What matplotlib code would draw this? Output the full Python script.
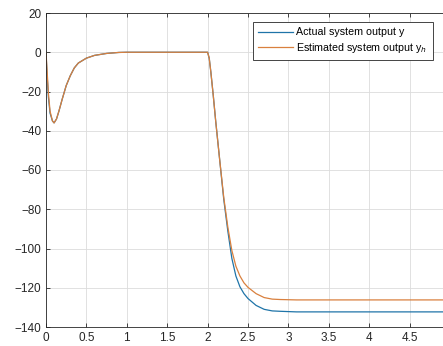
import matplotlib.pyplot as plt

# time samples (s)
t = [0, 0.01, 0.03, 0.05, 0.08, 0.1, 0.13, 0.16, 0.2, 0.25, 0.3, 0.35, 0.4,
     0.5, 0.6, 0.75, 0.9, 1.0, 2.0, 2.02, 2.04, 2.07, 2.1, 2.15, 2.2, 2.25,
     2.3, 2.35, 2.4, 2.45, 2.5, 2.6, 2.7, 2.8, 2.9, 3.1, 5.0]

# actual system output y
y_actual = [0, -9, -23, -31, -35, -36, -34, -30, -24, -17, -12, -8, -5.5,
            -3, -1.6, -0.6, -0.1, 0, 0, -3, -10, -22, -35, -55, -75, -91,
            -105, -114, -119.5, -123, -125.5, -129, -131, -131.8, -132,
            -132.3, -132.3]

# estimated system output y_h
y_est = [0, -7, -21, -30, -35, -36, -34, -30, -24, -17, -12, -8, -5.5,
         -3, -1.6, -0.6, -0.1, 0, 0, -3, -10, -22, -35, -55, -74, -89,
         -101, -109, -114, -117.5, -119.8, -123, -125, -125.8, -126,
         -126.2, -126.2]

plt.rcParams['font.family'] = ['Liberation Sans', 'DejaVu Sans']

fig = plt.figure(figsize=(4.43, 3.46), dpi=100)
ax = fig.add_axes([46/443, 1 - 327/346, 404/443, 314/346])

ax.plot(t, y_actual, color='#1F74A8', linewidth=0.9, label='Actual system output y')
ax.plot(t, y_est, color='#D9803E', linewidth=0.9, label='Estimated system output y$_h$')

ax.set_xlim(0, 5)
ax.set_ylim(-140, 20)
ax.set_xticks([0, 0.5, 1, 1.5, 2, 2.5, 3, 3.5, 4, 4.5, 5])
ax.set_xticklabels(['0', '0.5', '1', '1.5', '2', '2.5', '3', '3.5', '4', '4.5', ''])
ax.set_yticks(range(-140, 21, 20))
ax.grid(True, color='#dcdcdc', linewidth=0.6)
ax.tick_params(direction='in', top=True, right=True, labelsize=8.5,
               length=3, width=0.6, colors='#262626')
for s in ax.spines.values():
    s.set_color('#262626')
    s.set_linewidth(0.6)

leg = ax.legend(loc='upper left', bbox_to_anchor=(253/443, 1 - 22/346),
                bbox_transform=fig.transFigure, fontsize=7.7, fancybox=False,
                framealpha=1, edgecolor='#262626', borderpad=0.5,
                borderaxespad=0, handlelength=3.2, handletextpad=0.35,
                labelspacing=0.35)
leg.get_frame().set_linewidth(0.6)

fig.savefig('out.png', dpi=100)
